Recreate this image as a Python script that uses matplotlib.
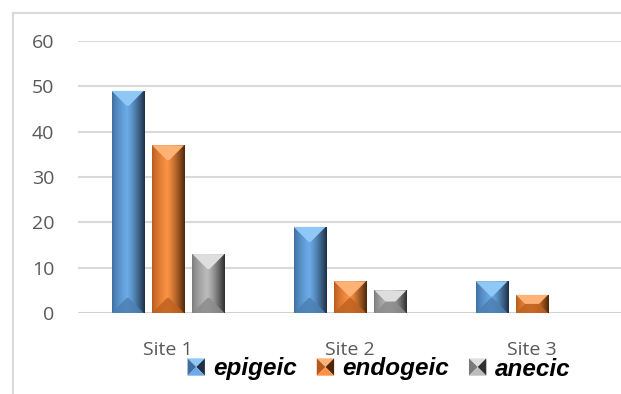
import numpy as np
import matplotlib
matplotlib.use('Agg')
import matplotlib.pyplot as plt
from matplotlib.patches import Polygon, Patch
from matplotlib.lines import Line2D
from matplotlib.colors import to_rgb
from matplotlib.legend_handler import HandlerBase

sites = ['Site 1', 'Site 2', 'Site 3']
epigeic = [49, 19, 7]
endogeic = [37, 7, 4]
anecic = [13, 5, 0]
series_names = ['epigeic', 'endogeic', 'anecic']

# shading for each series: left edge, centre, right edge, top face, bottom face
palettes = {
    'epigeic':  ['#3e6d9e', '#6cabe8', '#1d3047', '#8fc8f6', '#4d80b3'],
    'endogeic': ['#b55a1c', '#fb9243', '#4f2708', '#ffb275', '#c0621f'],
    'anecic':   ['#7a7a7a', '#bcbcbc', '#2f2f2f', '#dedede', '#8c8c8c'],
}

W, H, DPI = 621, 394, 100
fig = plt.figure(figsize=(W / DPI, H / DPI), dpi=DPI)
ax = fig.add_axes([78 / W, (H - 313) / H, (W - 78) / W, (313 - 41) / H])
ax.set_xlim(-0.495, 2.489)
ax.set_ylim(0, 60)

# pixel size of one data unit, for the bevel geometry
px_x = ax.get_position().width * W / (ax.get_xlim()[1] - ax.get_xlim()[0])
px_y = ax.get_position().height * H / (ax.get_ylim()[1] - ax.get_ylim()[0])


def blend(cols, n=64):
    left, mid, right = [np.array(to_rgb(c)) for c in cols]
    t = np.linspace(0, 1, n)
    rows = []
    for v in t:
        if v < 0.45:
            rows.append(left + (mid - left) * (v / 0.45) ** 0.7)
        else:
            rows.append(mid + (right - mid) * ((v - 0.45) / 0.55) ** 1.3)
    return np.array(rows)[None, :, :]


def bevel_bar(patch, pal):
    x0, w, h = patch.get_x(), patch.get_width(), patch.get_height()
    if h <= 0:
        return
    x1 = x0 + w
    img = ax.imshow(blend(pal[:3]), extent=(x0, x1, 0, h), aspect='auto',
                    zorder=3, interpolation='bilinear')
    img.set_clip_path(patch)
    w_px, h_px = w * px_x, h * px_y
    d = min(w_px / 2, h_px / 2, 15)
    dx, dy = d / px_x, d / px_y
    top = Polygon([(x0, h), (x1, h), (x1 - dx, h - dy), (x0 + dx, h - dy)],
                  closed=True, facecolor=pal[3], edgecolor='none', zorder=4)
    bot = Polygon([(x0, 0), (x1, 0), (x1 - dx, dy), (x0 + dx, dy)],
                  closed=True, facecolor=pal[4], edgecolor='none', alpha=0.85, zorder=4)
    ax.add_patch(top)
    ax.add_patch(bot)


x = np.arange(len(sites))
width = 0.176
offset = 0.222
for i, (name, vals) in enumerate(zip(series_names, [epigeic, endogeic, anecic])):
    pal = palettes[name]
    bars = ax.bar(x + (i - 1) * offset, vals, width, color=pal[1], zorder=2,
                  edgecolor='none')
    for p in bars:
        bevel_bar(p, pal)

ax.set_yticks(range(0, 61, 10))
ax.yaxis.grid(True, color='#d9d9d9', linewidth=1.5, zorder=0)
ax.set_axisbelow(True)
ax.axhline(0, color='#d0d0d0', linewidth=1.8, zorder=1)
for s in ax.spines.values():
    s.set_visible(False)
ax.set_xticks(x)
ax.set_xticklabels(sites)
ax.tick_params(axis='both', length=0, labelsize=14, labelcolor='#595959')
ax.tick_params(axis='x', pad=20)
ax.tick_params(axis='y', pad=17)
for lab in ax.get_xticklabels() + ax.get_yticklabels():
    lab.set_fontfamily('Open Sans')

# chart area frame, left and top edges
fig.add_artist(Line2D([13 / W, 13 / W], [0, 1 - 13 / H], color='#d9d9d9', linewidth=1.5))
fig.add_artist(Line2D([13 / W, 1], [1 - 13 / H, 1 - 13 / H], color='#d9d9d9', linewidth=1.5))


class BevelHandler(HandlerBase):
    def create_artists(self, legend, orig_handle, xdescent, ydescent, width,
                       height, fontsize, trans):
        pal = palettes[orig_handle.get_label()]
        s = min(width, height)
        x0 = -xdescent + (width - s) / 2
        y0 = -ydescent + (height - s) / 2
        cx, cy = x0 + s / 2, y0 + s / 2
        c = [(x0, y0), (x0 + s, y0), (x0 + s, y0 + s), (x0, y0 + s)]
        faces = [
            ([c[3], c[2], (cx, cy)], pal[3]),
            ([c[0], c[3], (cx, cy)], pal[0]),
            ([c[1], c[2], (cx, cy)], pal[2]),
            ([c[0], c[1], (cx, cy)], pal[1]),
        ]
        return [Polygon(pts, closed=True, facecolor=col, edgecolor='none',
                        transform=trans) for pts, col in faces]


handles = [Patch(label=n) for n in series_names]
fig.legend(handles=handles, labels=series_names, loc='center',
           bbox_to_anchor=(379 / W, 1 - 369 / H), ncol=3, frameon=False,
           handler_map={Patch: BevelHandler()},
           prop={'family': 'Liberation Sans', 'weight': 'bold', 'style': 'italic', 'size': 17.5},
           handlelength=0.72, handleheight=0.72, handletextpad=0.35,
           columnspacing=0.8, borderpad=0, borderaxespad=0)

fig.savefig('out.png', dpi=DPI)
